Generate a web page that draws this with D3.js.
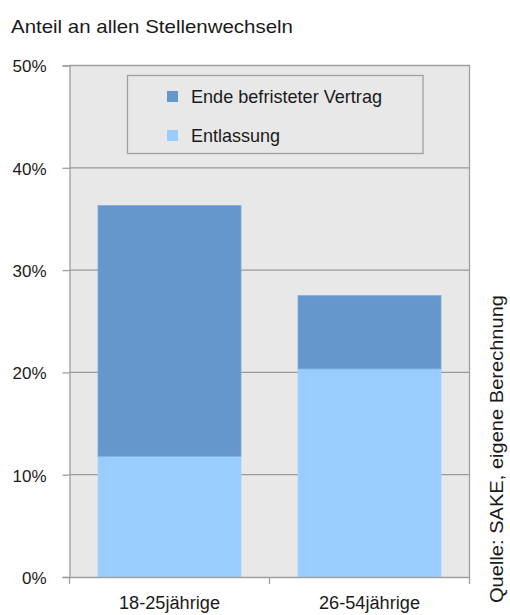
<!DOCTYPE html>
<html><head><meta charset="utf-8">
<script src="https://cdn.jsdelivr.net/npm/d3@7"></script>
<style>body{margin:0;background:#fff}text{font-family:"Liberation Sans",Arial,sans-serif;fill:#1a1a1a}</style>
</head><body>
<svg id="c" width="510" height="615"></svg>
<script>
const categories = ["18-25jährige", "26-54jährige"];
const seriesNames = ["Entlassung", "Ende befristeter Vertrag"];
const entlassung = [11.8, 20.35];
const endeBefristet = [24.5, 7.15];
const yTicks = [0, 10, 20, 30, 40, 50];
const yTickLabels = ["0%", "10%", "20%", "30%", "40%", "50%"];
const colors = ["#99ccff", "#6596cc"];
const titleText = "Anteil an allen Stellenwechseln";
const sourceText = "Quelle: SAKE, eigene Berechnung";

const svg = d3.select("#c");
const L = 69.5, R = 469.5, T = 65.5, B = 577;
const x = d3.scaleBand().domain(categories).range([L, R]).paddingInner(0.285).paddingOuter(0.1425);
const y = d3.scaleLinear().domain([0, 50]).range([B, T]);

// plot bg
svg.append("rect").attr("x", L).attr("y", T).attr("width", R - L).attr("height", B - T).attr("fill", "#e8e8e8");

// gridlines
svg.append("g").selectAll("line").data(yTicks.filter(d => d > 0 && d < 50)).join("line")
  .attr("x1", L).attr("x2", R).attr("y1", d => y(d)).attr("y2", d => y(d))
  .attr("stroke", "#9a9a9a").attr("stroke-width", 1.3);

// stacked bars
const rows = categories.map((c, i) => ({cat: c, "Entlassung": entlassung[i], "Ende befristeter Vertrag": endeBefristet[i]}));
const stack = d3.stack().keys(seriesNames)(rows);
svg.append("g").selectAll("g").data(stack).join("g")
  .attr("fill", (d, i) => colors[i])
  .selectAll("rect").data(d => d).join("rect")
  .attr("x", d => x(d.data.cat)).attr("width", x.bandwidth())
  .attr("y", d => y(d[1])).attr("height", d => y(d[0]) - y(d[1]))
  .attr("stroke", (d, i, n) => d3.select(n[i].parentNode).datum().index === 1 ? "#79a8dc" : "#a6d2ff")
  .attr("stroke-width", 0.8);

// plot border top/right
svg.append("path").attr("d", `M${L},${T}H${R}V${B}`).attr("fill", "none").attr("stroke", "#a0a0a0").attr("stroke-width", 1.3);

// y axis
const yAxis = svg.append("g").attr("transform", `translate(${L},0)`)
  .call(d3.axisLeft(y).tickValues(yTicks).tickFormat((d, i) => yTickLabels[i]).tickSize(7).tickPadding(16));
yAxis.select(".domain").attr("stroke", "#a0a0a0").attr("stroke-width", 1.3);
yAxis.selectAll(".tick line").attr("stroke", "#a0a0a0").attr("stroke-width", 1.3);
yAxis.selectAll(".tick text").attr("font-size", 17).attr("font-family", "Liberation Sans, Arial, sans-serif").attr("fill", "#1a1a1a").attr("dy", "0.38em");

// x axis
const xAxis = svg.append("g").attr("transform", `translate(0,${B})`)
  .call(d3.axisBottom(x).tickSize(0).tickPadding(0));
xAxis.select(".domain").attr("stroke", "#a0a0a0").attr("stroke-width", 1.3);
xAxis.selectAll(".tick text").attr("font-size", 18).attr("font-family", "Liberation Sans, Arial, sans-serif").attr("fill", "#1a1a1a")
  .attr("y", 32).attr("dy", 0)
  .attr("textLength", 101).attr("lengthAdjust", "spacingAndGlyphs");
// x separators between categories
const sepPos = [L, (x(categories[0]) + x.bandwidth() + x(categories[1])) / 2, R];
svg.append("g").selectAll("line").data(sepPos).join("line")
  .attr("x1", d => d).attr("x2", d => d).attr("y1", B).attr("y2", B + 7)
  .attr("stroke", "#a0a0a0").attr("stroke-width", 1.3);

// title
svg.append("text").attr("x", 11).attr("y", 33).attr("font-size", 19)
  .attr("textLength", 282).attr("lengthAdjust", "spacingAndGlyphs").text(titleText);

// legend
const lg = svg.append("g");
lg.append("rect").attr("x", 127.5).attr("y", 75.5).attr("width", 295.5).attr("height", 78)
  .attr("fill", "#e8e8e8").attr("stroke", "#a0a0a0").attr("stroke-width", 1.3);
const legendItems = [
  {name: seriesNames[1], color: colors[1], len: 191},
  {name: seriesNames[0], color: colors[0], len: 89}
];
legendItems.forEach((it, i) => {
  const cy = 96 + i * 39;
  lg.append("rect").attr("x", 167).attr("y", cy - 5).attr("width", 11).attr("height", 11).attr("fill", it.color);
  lg.append("text").attr("x", 191).attr("y", cy + 6.5).attr("font-size", 19)
    .attr("textLength", it.len).attr("lengthAdjust", "spacingAndGlyphs").text(it.name);
});

// source
svg.append("text").attr("transform", "translate(503,449) rotate(-90)").attr("text-anchor", "middle")
  .attr("font-size", 18).attr("textLength", 308).attr("lengthAdjust", "spacingAndGlyphs").text(sourceText);
</script>
</body></html>
